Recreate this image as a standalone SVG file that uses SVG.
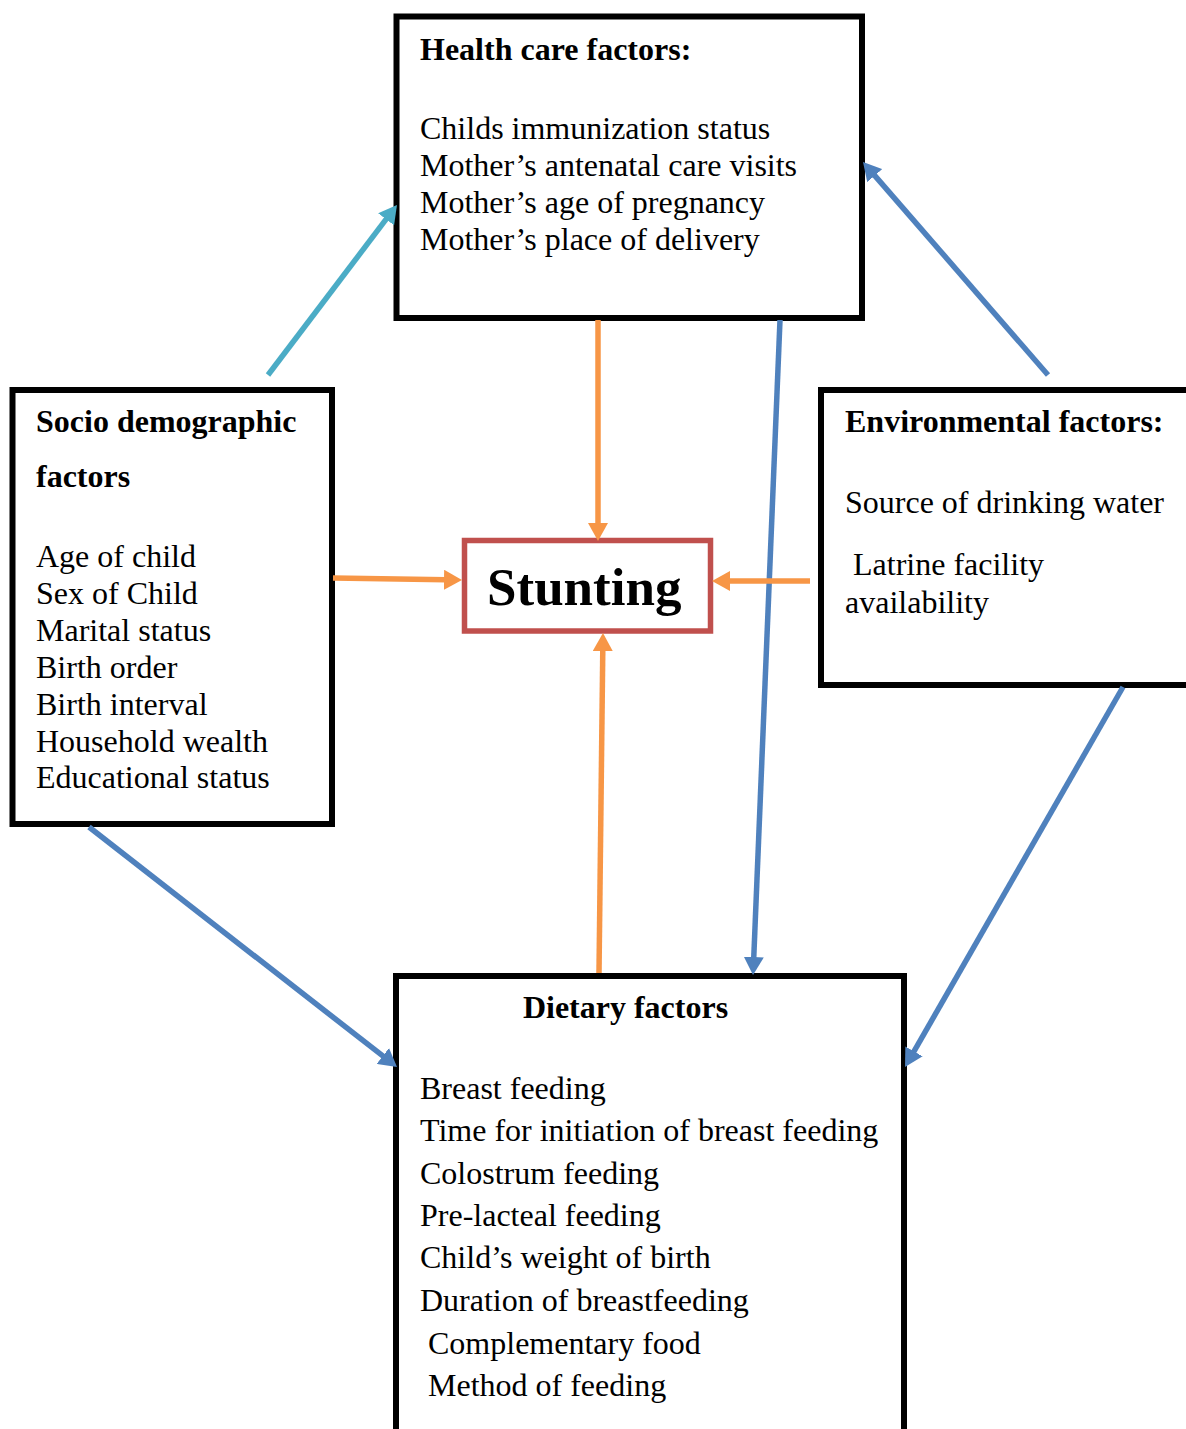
<svg xmlns="http://www.w3.org/2000/svg" width="1186" height="1429" viewBox="0 0 1186 1429">
<style>
.box{fill:#ffffff;stroke:#000000;stroke-width:6}
.t{font-family:"Liberation Serif","Times New Roman",serif;font-size:32px;fill:#000000}
.b{font-weight:bold}
.or{stroke:#F79646;stroke-width:5.5;fill:none;marker-end:url(#ho)}
.bl{stroke:#4F81BD;stroke-width:5.5;fill:none;marker-end:url(#hb)}
.tl{stroke:#4BACC6;stroke-width:5.5;fill:none;marker-end:url(#ht)}
</style>
<defs>
<marker id="ho" viewBox="0 0 18 20" markerUnits="userSpaceOnUse" markerWidth="18" markerHeight="20" refX="2" refY="10" orient="auto"><path d="M0,0 L18,10 L0,20 z" fill="#F79646"/></marker>
<marker id="hb" viewBox="0 0 18 20" markerUnits="userSpaceOnUse" markerWidth="18" markerHeight="20" refX="2" refY="10" orient="auto"><path d="M0,0 L18,10 L0,20 z" fill="#4F81BD"/></marker>
<marker id="ht" viewBox="0 0 18 20" markerUnits="userSpaceOnUse" markerWidth="18" markerHeight="20" refX="2" refY="10" orient="auto"><path d="M0,0 L18,10 L0,20 z" fill="#4BACC6"/></marker>
</defs>
<rect width="1186" height="1429" fill="#ffffff"/>

<g id="health">
<rect class="box" x="396.5" y="16.5" width="465.5" height="301.5"/>
<text class="t b" x="420" y="60">Health care factors:</text>
<text class="t" x="420" y="139">Childs immunization status</text>
<text class="t" x="420" y="176">Mother’s antenatal care visits</text>
<text class="t" x="420" y="213">Mother’s age of pregnancy</text>
<text class="t" x="420" y="250">Mother’s place of delivery</text>
</g>

<g id="socio">
<rect class="box" x="12.5" y="390" width="319.5" height="434"/>
<text class="t b" x="36" y="432">Socio demographic</text>
<text class="t b" x="36" y="487">factors</text>
<text class="t" x="36" y="567">Age of child</text>
<text class="t" x="36" y="604">Sex of Child</text>
<text class="t" x="36" y="641">Marital status</text>
<text class="t" x="36" y="678">Birth order</text>
<text class="t" x="36" y="715">Birth interval</text>
<text class="t" x="36" y="752">Household wealth</text>
<text class="t" x="36" y="788">Educational status</text>
</g>

<g id="environmental">
<rect class="box" x="821" y="390" width="380" height="295"/>
<text class="t b" x="845" y="432">Environmental factors:</text>
<text class="t" x="845" y="513">Source of drinking water</text>
<text class="t" x="853" y="575">Latrine facility</text>
<text class="t" x="845" y="613">availability</text>
</g>

<g id="stunting">
<rect x="464.5" y="540.5" width="246" height="90.5" fill="#ffffff" stroke="#C0504D" stroke-width="5.5"/>
<text class="t b" x="487" y="605" style="font-size:53px">Stunting</text>
</g>

<g id="dietary">
<rect class="box" x="396" y="976" width="508" height="480"/>
<text class="t b" x="625.5" y="1018" text-anchor="middle">Dietary factors</text>
<text class="t" x="420" y="1099">Breast feeding</text>
<text class="t" x="420" y="1141">Time for initiation of breast feeding</text>
<text class="t" x="420" y="1184">Colostrum feeding</text>
<text class="t" x="420" y="1226">Pre-lacteal feeding</text>
<text class="t" x="420" y="1268">Child’s weight of birth</text>
<text class="t" x="420" y="1311">Duration of breastfeeding</text>
<text class="t" x="428" y="1354">Complementary food</text>
<text class="t" x="428" y="1396">Method of feeding</text>
</g>

<g id="connectors">
<line class="tl" x1="268" y1="375" x2="387.3" y2="217.7"/>
<line class="bl" x1="1048" y1="375" x2="873.5" y2="174.1"/>
<line class="or" x1="598" y1="320" x2="598" y2="525"/>
<line class="bl" x1="780" y1="320" x2="753.7" y2="959"/>
<line class="or" x1="333" y1="578" x2="446" y2="579.8"/>
<line class="or" x1="810" y1="581" x2="728" y2="581"/>
<line class="or" x1="599" y1="973" x2="602.8" y2="649"/>
<line class="bl" x1="89" y1="827" x2="384.4" y2="1057.2"/>
<line class="bl" x1="1123" y1="687" x2="913" y2="1053.1"/>
</g>
</svg>
